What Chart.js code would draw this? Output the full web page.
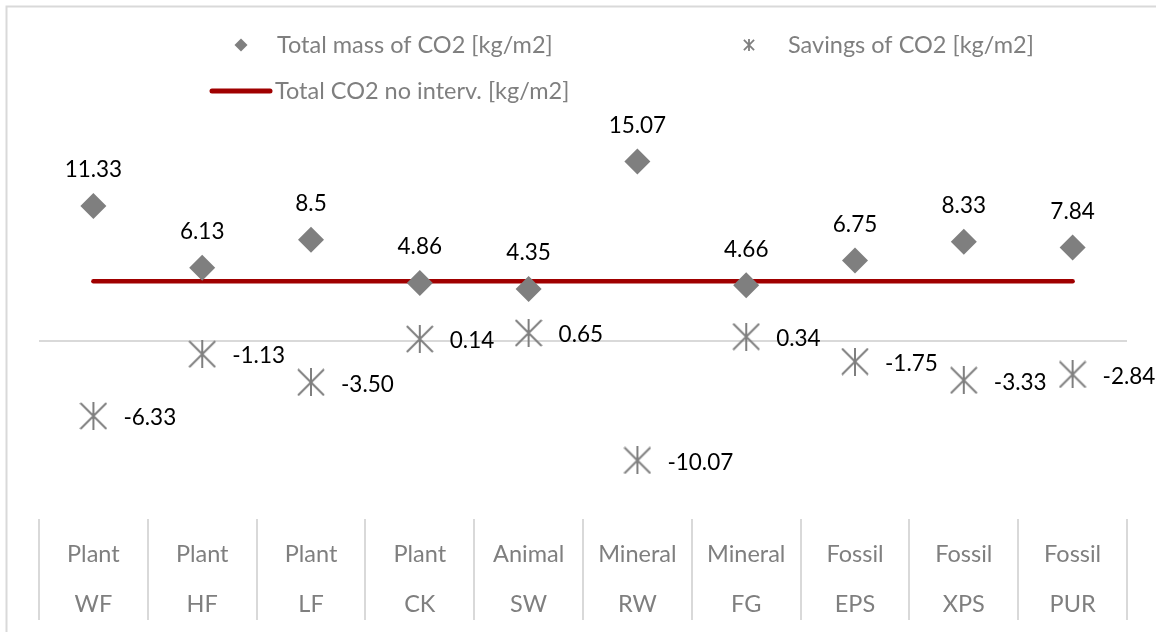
<!DOCTYPE html>
<html><head><meta charset="utf-8">
<script src="https://cdn.jsdelivr.net/npm/chart.js@4.4.0/dist/chart.umd.min.js"></script>
<style>html,body{margin:0;padding:0;background:#fff}#wrap{width:1156px;height:632px;position:relative}</style>
</head><body><div id="wrap"><canvas id="c" width="1156" height="632"></canvas></div>
<script>
const groups = ['Plant','Plant','Plant','Plant','Animal','Mineral','Mineral','Fossil','Fossil','Fossil'];
const materials = ['WF','HF','LF','CK','SW','RW','FG','EPS','XPS','PUR'];
const totalMass = [11.33, 6.13, 8.5, 4.86, 4.35, 15.07, 4.66, 6.75, 8.33, 7.84];
const savings = [-6.33, -1.13, -3.50, 0.14, 0.65, -10.07, 0.34, -1.75, -3.33, -2.84];
const noInterv = [5, 5, 5, 5, 5, 5, 5, 5, 5, 5];
const seriesNames = ['Total mass of CO2 [kg/m2]', 'Savings of CO2 [kg/m2]', 'Total CO2 no interv. [kg/m2]'];

const FONT = 'Lato, "Open Sans", sans-serif';
const GRAY = '#7f7f7f';
const RED = '#a00000';

function makeAst(size, lw) {
  const c = document.createElement('canvas');
  c.width = size; c.height = size;
  const g = c.getContext('2d');
  g.strokeStyle = GRAY; g.lineWidth = lw;
  const m = lw / 2;
  g.beginPath();
  g.moveTo(size / 2, 0); g.lineTo(size / 2, size);
  g.moveTo(m, m); g.lineTo(size - m, size - m);
  g.moveTo(size - m, m); g.lineTo(m, size - m);
  g.stroke();
  return c;
}
const astBig = makeAst(28, 2);
const astSmall = makeAst(12, 1.8);

const framePlugin = {
  id: 'frame',
  beforeDraw(chart) {
    const ctx = chart.ctx;
    ctx.save();
    ctx.strokeStyle = '#d9d9d9'; ctx.lineWidth = 2;
    ctx.strokeRect(6.5, 6.5, 1300, 800);
    ctx.restore();
  }
};

const labelPlugin = {
  id: 'valueLabels',
  afterDatasetsDraw(chart) {
    const ctx = chart.ctx;
    ctx.save();
    ctx.font = '22.5px ' + FONT;
    ctx.fillStyle = '#000';
    chart.getDatasetMeta(0).data.forEach((pt, i) => {
      ctx.textAlign = 'center'; ctx.textBaseline = 'middle';
      ctx.fillText(String(totalMass[i]), pt.x, pt.y - 36);
    });
    chart.getDatasetMeta(1).data.forEach((pt, i) => {
      ctx.textAlign = 'left'; ctx.textBaseline = 'middle';
      ctx.fillText(savings[i].toFixed(2), pt.x + 30, pt.y + 2);
    });
    ctx.restore();
  }
};

const legendPlugin = {
  id: 'customLegend',
  afterDraw(chart) {
    const ctx = chart.ctx;
    ctx.save();
    ctx.font = '23.5px ' + FONT;
    ctx.fillStyle = GRAY;
    ctx.textBaseline = 'middle'; ctx.textAlign = 'left';
    ctx.beginPath();
    ctx.moveTo(241, 38.5); ctx.lineTo(247.5, 45); ctx.lineTo(241, 51.5); ctx.lineTo(234.5, 45); ctx.closePath();
    ctx.fill();
    ctx.fillText(seriesNames[0], 277, 45);
    ctx.drawImage(astSmall, 743, 39);
    ctx.fillText(seriesNames[1], 788, 45);
    ctx.strokeStyle = RED; ctx.lineWidth = 5; ctx.lineCap = 'round';
    ctx.beginPath(); ctx.moveTo(212, 91); ctx.lineTo(270, 91); ctx.stroke();
    ctx.fillText(seriesNames[2], 275, 91);
    ctx.restore();
  }
};

new Chart(document.getElementById('c'), {
  type: 'line',
  data: {
    labels: groups.map((g, i) => [g, materials[i]]),
    datasets: [
      { label: seriesNames[0], data: totalMass, showLine: false, pointStyle: 'rectRot', pointRadius: 13, pointHoverRadius: 13,
        backgroundColor: GRAY, borderColor: GRAY, borderWidth: 0, order: 0 },
      { label: seriesNames[1], data: savings, showLine: false, pointStyle: astBig, pointRadius: 14,
        backgroundColor: GRAY, borderColor: GRAY, order: 1 },
      { label: seriesNames[2], data: noInterv, pointRadius: 0, borderColor: RED, borderWidth: 4.5,
        borderCapStyle: 'round', backgroundColor: RED, fill: false, order: 2 }
    ]
  },
  options: {
    responsive: false,
    animation: false,
    devicePixelRatio: 1,
    events: [],
    layout: { padding: { left: 39, right: 29, top: 103, bottom: 0 } },
    plugins: { legend: { display: false }, tooltip: { enabled: false } },
    scales: {
      x: {
        offset: true,
        afterFit: s => { s.height = 113; },
        border: { display: false },
        grid: { offset: true, drawOnChartArea: false, drawTicks: true, tickLength: 101, color: '#d9d9d9', lineWidth: 2 },
        ticks: { autoSkip: false, maxRotation: 0, minRotation: 0, padding: -91, color: GRAY,
          font: { family: FONT, size: 23.5, lineHeight: 50 / 23.5 } }
      },
      y: {
        min: -15, max: 20,
        afterFit: s => { s.width = 0; },
        border: { display: false },
        ticks: { display: false, stepSize: 5 },
        grid: { drawTicks: false, lineWidth: 2, color: c => (c.tick && c.tick.value === 0) ? '#d9d9d9' : 'rgba(0,0,0,0)' }
      }
    }
  },
  plugins: [framePlugin, labelPlugin, legendPlugin]
});
</script></body></html>
